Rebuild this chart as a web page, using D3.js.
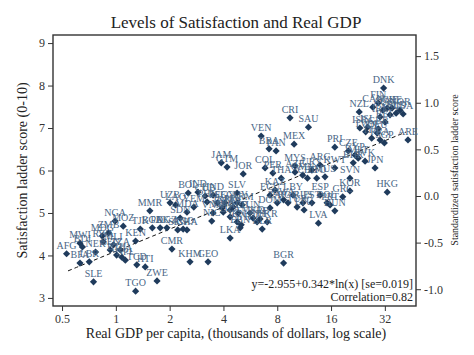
<!DOCTYPE html>
<html><head><meta charset="utf-8">
<script src="https://cdn.jsdelivr.net/npm/d3@7"></script>
<style>body{margin:0;background:#fff}</style>
</head><body><svg id="c" width="474" height="355"></svg>
<script>
const countries=["AFG","MWI","BDI","NER","BFA","LBR","SLE","MDG","RWA","ZMB","MLI","BEN","ETH","TZA","UGA","NGA","MOZ","NPL","KEN","TJK","TCD","HTI","TGO","ZWE","MMR","BGD","PAK","KGZ","SEN","GHA","CMR","UZB","LAO","MDA","BOL","SDN","AGO","YEM",
"IND","CUB","HND","PHL","PSE","IDN","EGY","MAR","PRY","GUY","ARM","VNM","NIC","MNG","DZA","ALB","IRN","SYR","TUN","MKD","BIH","SRB","BLR","UKR","LBN","LKA","GEO","KHM","DOM","ZAF","ECU","KAZ","BWA","ROU","TUR","RUS","LBY","PER","THA","BGR","AZE","JAM","GTM","JOR","SLV","COL","MYS","VEN","BRA","PAN","MEX","CRI","SAU","ARG","URY","CHL","TTO","MUS","OMN",
"PRI","CZE","CYP","MLT","BHR","KWT","JPN","SVN","KOR","HKG","GRC","POL","HUN","LVA","EST","LTU","PRT","ESP",
"DNK","FIN","CAN","SWE","CHE","AUS","NOR","NLD","AUT","NZL","IRL","USA","BEL","ISR","ISL","GBR","DEU","FRA","ITA","TWN","SGP","ARE","SVK"];
const gdp=[0.53,0.63,0.65,0.77,0.63,0.71,0.75,0.84,0.85,0.91,0.97,0.93,1.01,1.06,1.08,0.99,1.10,1.13,1.29,1.37,1.31,1.46,1.29,1.70,1.55,1.60,1.77,1.93,2.22,2.50,2.06,2.01,2.16,2.50,2.54,2.29,2.38,2.73,
2.88,3.16,3.50,3.24,3.70,3.94,4.08,4.36,4.53,4.77,5.09,3.50,3.44,3.99,4.36,4.84,4.77,5.03,5.63,5.86,6.17,6.41,6.59,7.03,4.96,4.36,3.28,2.60,7.29,8.00,7.29,7.78,8.68,9.19,10.33,11.14,9.81,7.56,8.42,8.68,10.06,3.89,4.19,5.16,4.77,6.84,10.06,6.50,7.20,7.88,9.94,9.43,11.96,13.89,12.5,11.8,13.3,14.8,11.1,
16.8,20.0,21.8,22.7,21.3,16.8,28.2,20.4,20.4,33.0,18.6,15.2,16.8,13.6,12.5,11.3,15.8,13.9,
31.5,29.4,27.4,33.0,35.1,31.2,38.9,37.0,34.2,23.0,30.1,40.5,32.1,23.2,25.6,29.4,29.0,30.1,27.0,25.0,31.8,43.1,24.8];
const score=[4.04,4.29,4.20,4.08,3.82,3.85,3.38,4.46,4.32,4.53,4.25,4.13,4.01,4.13,3.96,4.81,4.69,3.89,4.34,4.62,3.78,3.73,3.16,3.40,5.05,4.65,4.65,4.65,4.60,4.60,4.15,5.24,5.19,5.02,5.47,4.88,4.62,5.14,
5.49,5.40,5.42,5.26,5.24,5.12,5.24,5.07,5.14,5.24,5.19,5.00,4.81,5.02,4.91,5.00,4.79,4.72,5.00,4.88,4.79,4.86,4.62,4.79,4.65,4.41,3.85,3.85,5.12,5.24,5.42,5.54,5.31,5.24,5.14,5.24,5.42,5.94,5.82,3.82,5.96,6.18,6.08,5.92,5.47,6.06,6.11,6.81,6.51,6.46,6.62,7.24,7.02,6.13,6.01,5.82,5.82,5.85,5.89,
6.55,6.46,6.36,6.29,6.18,6.06,6.06,5.82,5.52,5.49,5.38,5.24,5.05,4.76,5.24,5.07,5.19,5.42,
7.94,7.59,7.49,7.47,7.47,7.42,7.42,7.35,7.31,7.38,7.26,7.33,7.14,7.00,7.02,6.98,6.88,6.72,6.76,6.91,6.65,6.72,6.22];
const xTicks=[0.5,1,2,4,8,16,32];
const yTicks=[3,4,5,6,7,8,9];
const zTicks=[-1.0,-0.5,0.0,0.5,1.0,1.5];
const fitA=-2.955, fitB=0.342, satMean=5.40, satSD=2.195;
const fitRange=[0.54,42];
const titleText="Levels of Satisfaction and Real GDP";
const xTitle="Real GDP per capita, (thousands of dollars, log scale)";
const yTitle="Satisfaction ladder score (0-10)";
const zTitle="Standardized satisfaction ladder score";
const eqText="y=-2.955+0.342*ln(x) [se=0.019]";
const corrText="Correlation=0.82";

const W=474,H=355, L=53,R=416,T=35,B=306;
const font="'Liberation Serif','Times New Roman',serif";
const svg=d3.select("#c");
const x=d3.scaleLog().domain([0.445,47.8]).range([L,R]);
const y=d3.scaleLinear().domain([2.81,9.19]).range([B,T]);
const z=d3.scaleLinear().domain([(2.81-satMean)/satSD,(9.19-satMean)/satSD]).range([B,T]);

svg.append("rect").attr("width",W).attr("height",H).attr("fill","#fff");
svg.append("text").attr("x",236).attr("y",28).attr("text-anchor","middle")
  .attr("font-family",font).attr("font-size",17).attr("fill","#222").text(titleText);

function styleAxis(g){
  g.select(".domain").remove();
  g.selectAll("line").attr("stroke","#333").attr("stroke-width",1);
  g.selectAll("text").attr("font-family",font).attr("font-size",12).attr("fill","#333");
}
svg.append("g").attr("transform",`translate(${L},0)`)
  .call(d3.axisLeft(y).tickValues(yTicks).tickSize(5).tickSizeOuter(0).tickFormat(d3.format("d"))).call(styleAxis);
svg.append("g").attr("transform",`translate(0,${B})`)
  .call(d3.axisBottom(x).tickValues(xTicks).tickSize(5).tickSizeOuter(0).tickFormat(d=>String(d))).call(styleAxis);
svg.append("g").attr("transform",`translate(${R},0)`)
  .call(d3.axisRight(z).tickValues(zTicks).tickSize(5).tickSizeOuter(0).tickFormat(d=>d.toFixed(1))).call(styleAxis);

svg.append("rect").attr("x",L).attr("y",T).attr("width",R-L).attr("height",B-T)
  .attr("fill","none").attr("stroke","#333").attr("stroke-width",1.4);

svg.append("text").attr("transform",`translate(27,${(T+B)/2}) rotate(-90)`).attr("text-anchor","middle")
  .attr("font-family",font).attr("font-size",14).attr("fill","#222").text(yTitle);
svg.append("text").attr("x",236).attr("y",338).attr("text-anchor","middle")
  .attr("font-family",font).attr("font-size",14).attr("fill","#222").text(xTitle);
svg.append("text").attr("transform",`translate(458,${170}) rotate(-90)`).attr("text-anchor","middle")
  .attr("font-family",font).attr("font-size",10).attr("fill","#222").text(zTitle);

// fit line
const fx=d3.range(0,41).map(i=>Math.exp(Math.log(fitRange[0])+i/40*(Math.log(fitRange[1])-Math.log(fitRange[0]))));
const line=d3.line().x(d=>x(d)).y(d=>y(satMean+satSD*(fitA+fitB*Math.log(d*1000))));
svg.append("path").datum(fx).attr("d",line).attr("fill","none").attr("stroke","#111")
  .attr("stroke-width",1).attr("stroke-dasharray","4,3");

const data=countries.map((c,i)=>({c,g:gdp[i],s:score[i]}));
const pts=svg.append("g");
pts.selectAll("path").data(data).join("path")
  .attr("d",d=>{const cx=x(d.g),cy=y(d.s),r=3.6;return `M${cx},${cy-r}L${cx+r},${cy}L${cx},${cy+r}L${cx-r},${cy}Z`;})
  .attr("fill","#1f3b5c");
svg.append("g").selectAll("text").data(data).join("text")
  .attr("x",d=>x(d.g)).attr("y",d=>y(d.s)-5).attr("text-anchor","middle")
  .attr("font-family",font).attr("font-size",10).attr("fill","#4a6787").text(d=>d.c);

svg.append("text").attr("x",413).attr("y",288).attr("text-anchor","end")
  .attr("font-family",font).attr("font-size",12).attr("fill","#222").text(eqText);
svg.append("text").attr("x",413).attr("y",301).attr("text-anchor","end")
  .attr("font-family",font).attr("font-size",12).attr("fill","#222").text(corrText);
</script></body></html>
